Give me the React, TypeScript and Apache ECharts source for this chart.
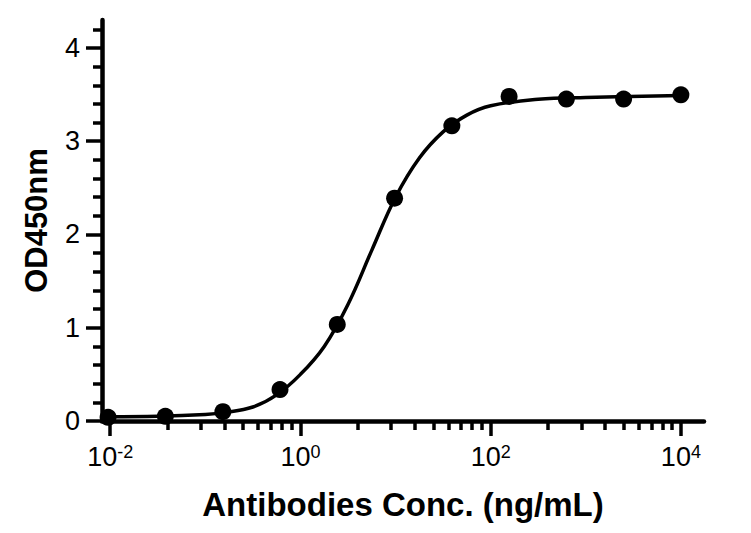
import React, { useEffect, useRef } from "react";
import * as echarts from "echarts";

// Concentrations (ng/mL), 4-fold dilutions
const concentrations = [0.0095, 0.038, 0.153, 0.61, 2.44, 9.77, 39.1, 156.3, 625, 2500, 10000];
// Measured OD450 values
const odValues = [0.04, 0.05, 0.1, 0.337, 1.035, 2.389, 3.165, 3.48, 3.452, 3.452, 3.498];

// Fitted curve
const curveConc = [0.0095, 0.0316, 0.1, 0.158, 0.316, 0.562, 1, 1.78, 3.16, 5.62, 10, 17.8, 31.6, 56.2, 100, 316, 1000, 10000];
const curveOD = [0.045, 0.05, 0.07, 0.09, 0.15, 0.28, 0.5, 0.8, 1.25, 1.83, 2.4, 2.82, 3.1, 3.28, 3.38, 3.45, 3.47, 3.49];

// Axis ticks
const xMajorTicks = [0.01, 1, 100, 10000];
const xMinorTicks = [0.04, 0.09, 0.16, 0.25, 0.36, 0.49, 0.64, 0.81, 4, 9, 16, 25, 36, 49, 64, 81, 400, 900, 1600, 2500, 3600, 4900, 6400, 8100];
const yMajorTicks = [0, 1, 2, 3, 4];

const FONT = "'Liberation Sans', Arial, Helvetica, sans-serif";

export default function App() {
  const ref = useRef<HTMLDivElement>(null);
  useEffect(() => {
    if (!ref.current) return;
    const chart = echarts.init(ref.current, null, { renderer: "svg" });
    const xMin = 0.0082;
    const xMax = 17500;
    chart.setOption({
      animation: false,
      backgroundColor: "#fff",
      textStyle: { fontFamily: FONT, color: "#000" },
      grid: { left: 102, right: 47, top: 20, bottom: 112, containLabel: false },
      xAxis: [
        {
          type: "log",
          logBase: 10,
          min: xMin,
          max: xMax,
          position: "bottom",
          name: "Antibodies Conc. (ng/mL)",
          nameLocation: "middle",
          nameGap: 67,
          nameTextStyle: { fontFamily: FONT, fontSize: 33, fontWeight: "bold", color: "#000" },
          axisLine: { show: true, onZero: false, lineStyle: { color: "#000", width: 4.5 } },
          axisTick: { show: true, inside: false, length: 15, customValues: xMajorTicks, lineStyle: { color: "#000", width: 3.5 } },
          minorTick: { show: false },
          splitLine: { show: false },
          axisLabel: {
            customValues: xMajorTicks,
            margin: 22,
            formatter: (v: number) => {
              const e = Math.round(Math.log10(v));
              return `{b|10}{s|${e}}`;
            },
            rich: {
              b: { fontFamily: FONT, fontSize: 27, lineHeight: 28, color: "#000" },
              s: { fontFamily: FONT, fontSize: 18, lineHeight: 17, verticalAlign: "top", color: "#000" },
            },
          },
        },
        {
          type: "log",
          logBase: 10,
          min: xMin,
          max: xMax,
          position: "bottom",
          axisLine: { show: false, onZero: false },
          axisTick: { show: true, inside: false, length: 9, customValues: xMinorTicks, lineStyle: { color: "#000", width: 3.5 } },
          axisLabel: { show: false },
          splitLine: { show: false },
        },
      ],
      yAxis: {
        type: "value",
        min: 0,
        max: 4.3,
        interval: 1,
        name: "OD450nm",
        nameLocation: "middle",
        nameGap: 50,
        nameRotate: 90,
        nameTextStyle: { fontFamily: FONT, fontSize: 31, fontWeight: "bold", color: "#000" },
        axisLine: { show: true, lineStyle: { color: "#000", width: 4.5 } },
        axisTick: { show: true, inside: false, length: 16, customValues: yMajorTicks, lineStyle: { color: "#000", width: 3.5 } },
        minorTick: { show: true, splitNumber: 5, length: 9, lineStyle: { color: "#000", width: 3.5 } },
        splitLine: { show: false },
        minorSplitLine: { show: false },
        axisLabel: { customValues: yMajorTicks, margin: 22, fontFamily: FONT, fontSize: 27, color: "#000" },
      },
      series: [
        {
          type: "line",
          data: curveConc.map((c, i) => [c, curveOD[i]]),
          smooth: 0.4,
          showSymbol: false,
          lineStyle: { color: "#000", width: 3.5 },
          z: 2,
        },
        {
          type: "scatter",
          data: concentrations.map((c, i) => [c, odValues[i]]),
          symbol: "circle",
          symbolSize: 17,
          itemStyle: { color: "#000", opacity: 1 },
          z: 3,
        },
      ],
    });
    return () => chart.dispose();
  }, []);
  return <div ref={ref} style={{ position: "absolute", left: 0, top: 0, width: 751, height: 533 }} />;
}
